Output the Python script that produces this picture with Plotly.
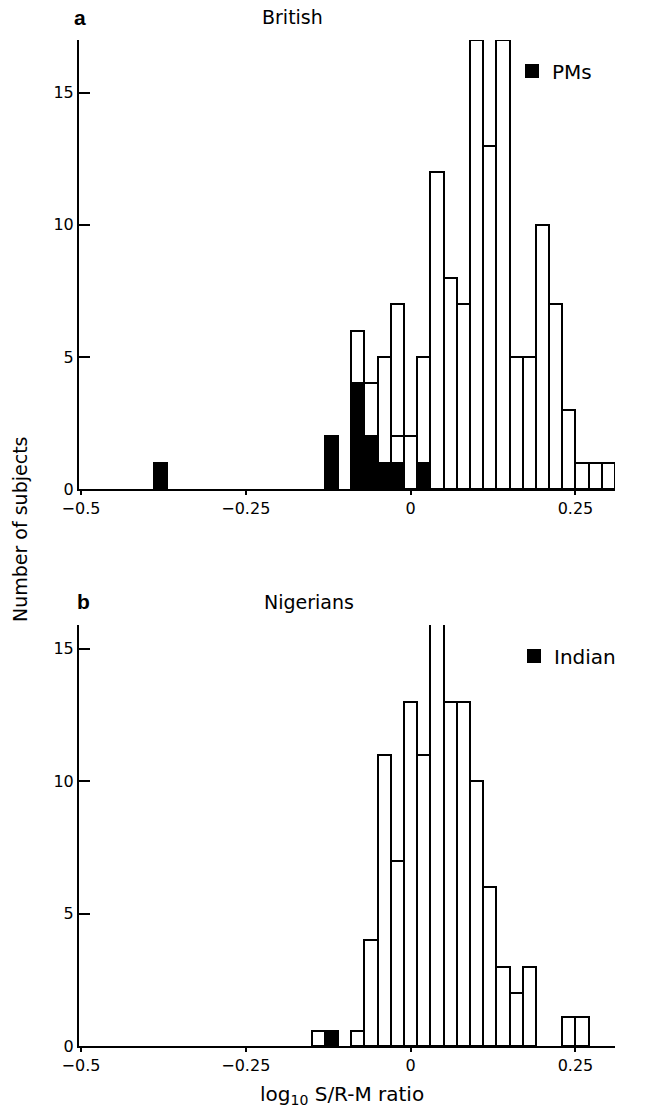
import plotly.graph_objects as go

# ---- Data: panel a (British) ----
bins_a = [-0.38, -0.12, -0.08, -0.06, -0.04, -0.02, 0.00, 0.02, 0.04, 0.06, 0.08,
          0.10, 0.12, 0.14, 0.16, 0.18, 0.20, 0.22, 0.24, 0.26, 0.28, 0.30]
pms_a = [1, 2, 4, 2, 1, 1, None, 1, None, None, None,
         None, None, None, None, None, None, None, None, None, None, None]
others_lower_a = [None, None, 2, 2, 4, 1, 2, 4, 12, 8, 7,
                  17, 13, 17, 5, 5, 10, 7, 3, 1, 1, 1]
others_upper_a = [None, None, None, None, None, 5, None, None, None, None, None,
                  None, None, None, None, None, None, None, None, None, None, None]

# ---- Data: panel b (Nigerians) ----
bins_b = [-0.14, -0.12, -0.08, -0.06, -0.04, -0.02, 0.00, 0.02, 0.04, 0.06,
          0.08, 0.10, 0.12, 0.14, 0.16, 0.18, 0.24, 0.26]
indian_b = [None, 0.55, None, None, None, None, None, None, None, None,
            None, None, None, None, None, None, None, None]
nigerian_b = [0.55, None, 0.55, 4, 11, 7, 13, 11, 16, 13,
              13, 10, 6, 3, 2, 3, 1.1, 1.1]

x_ticks = [-0.5, -0.25, 0, 0.25]
x_ticktext = ["\u22120.5", "\u22120.25", "0", "0.25"]
y_ticks = [0, 5, 10, 15]

FONT = "DejaVu Sans"
BW = 0.02
LW = 2

fig = go.Figure()

def bar(x, y, fill, name, xa, ya, show=False, legend="legend"):
    return go.Bar(x=x, y=y, width=BW, name=name, xaxis=xa, yaxis=ya,
                  marker=dict(color=fill, line=dict(color="black", width=LW)),
                  showlegend=show, legend=legend, hoverinfo="x+y")

fig.add_trace(bar(bins_a, pms_a, "black", "PMs", "x", "y", show=True, legend="legend"))
fig.add_trace(bar(bins_a, others_lower_a, "white", "British", "x", "y"))
fig.add_trace(bar(bins_a, others_upper_a, "white", "British ", "x", "y"))
fig.add_trace(bar(bins_b, indian_b, "black", "Indian", "x2", "y2", show=True, legend="legend2"))
fig.add_trace(bar(bins_b, nigerian_b, "white", "Nigerians", "x2", "y2"))

xcommon = dict(range=[-0.503, 0.31], tickvals=x_ticks, ticktext=x_ticktext,
               showline=True, linecolor="black", linewidth=2, ticks="outside",
               ticklen=4, tickwidth=2, tickcolor="black", showgrid=False,
               zeroline=False, tickfont=dict(family=FONT, size=16, color="black"))
ycommon = dict(tickvals=y_ticks, showline=True, linecolor="black", linewidth=2,
               ticks="inside", ticklen=11, tickwidth=2, tickcolor="black",
               showgrid=False, zeroline=False,
               tickfont=dict(family=FONT, size=16, color="black"))

H = 1110
T, B = 40, 64
plot_h = H - T - B

fig.update_layout(
    width=654, height=H,
    margin=dict(l=79, r=39, t=T, b=B),
    paper_bgcolor="white", plot_bgcolor="white",
    barmode="stack", bargap=0,
    xaxis=dict(domain=[0, 1], anchor="y", **xcommon),
    yaxis=dict(domain=[(1046 - 489) / plot_h, 1.0], anchor="x", range=[0, 17], **ycommon),
    xaxis2=dict(domain=[0, 1], anchor="y2", **xcommon),
    yaxis2=dict(domain=[0, 421 / plot_h], anchor="x2", range=[0, 15.9], **ycommon),
    legend=dict(x=(512 - 79) / 536, y=(1046 - 71) / plot_h, xanchor="left", yanchor="middle",
                font=dict(family=FONT, size=20, color="black"), bgcolor="rgba(0,0,0,0)"),
    legend2=dict(x=(514 - 79) / 536, y=(1046 - 656) / plot_h, xanchor="left", yanchor="middle",
                 font=dict(family=FONT, size=20, color="black"), bgcolor="rgba(0,0,0,0)"),
    font=dict(family=FONT, color="black"),
)

def px_x(px):
    return (px - 79) / 536

def px_y(py):
    return (1046 - py) / plot_h

ann = [
    dict(text="<b>a</b>", x=px_x(80), y=px_y(17), xanchor="center", yanchor="middle",
         font=dict(family="Liberation Sans", size=21)),
    dict(text="British", x=px_x(260), y=px_y(17), xanchor="left", yanchor="middle",
         font=dict(family=FONT, size=19)),
    dict(text="<b>b</b>", x=px_x(83), y=px_y(601), xanchor="center", yanchor="middle",
         font=dict(family="Liberation Sans", size=21)),
    dict(text="Nigerians", x=px_x(262), y=px_y(602), xanchor="left", yanchor="middle",
         font=dict(family=FONT, size=19)),
    dict(text="Number of subjects", x=px_x(20), y=px_y(530), xanchor="center", yanchor="middle",
         textangle=-90, font=dict(family=FONT, size=19)),
    dict(text="log<sub>10</sub> S/R-M ratio", x=px_x(342), y=px_y(1095), xanchor="center",
         yanchor="middle", font=dict(family=FONT, size=20)),
]
for a in ann:
    a.update(xref="paper", yref="paper", showarrow=False)
    a["font"]["color"] = "black"
fig.update_layout(annotations=ann)

fig.write_html("out.html", config={"displayModeBar": False},
               post_script="document.body.style.margin='0';document.body.style.padding='0';")
